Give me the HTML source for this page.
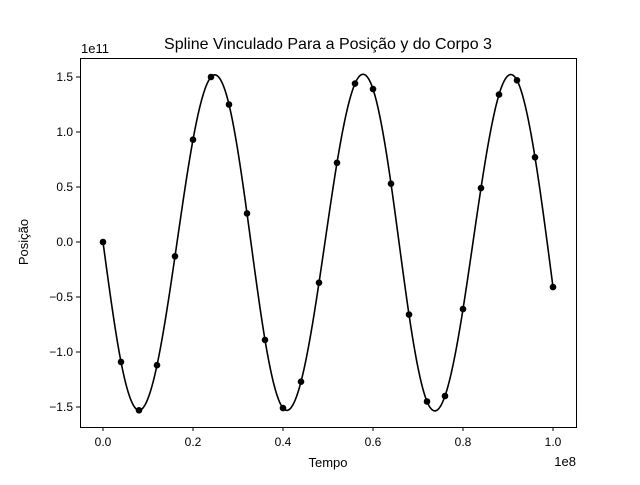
<!DOCTYPE html>
<html><head><meta charset="utf-8"><style>
body{margin:0;background:#fff}
svg text{font-family:"Liberation Sans","DejaVu Sans",sans-serif;fill:#000}
</style></head><body>
<svg id="c" width="640" height="480">
<rect width="640" height="480" fill="#fff"/>
<text x="328" y="49" text-anchor="middle" font-size="16">Spline Vinculado Para a Posição y do Corpo 3</text>
<text x="328" y="467" text-anchor="middle" font-size="13">Tempo</text>
<text transform="translate(28,242) rotate(-90)" text-anchor="middle" font-size="13">Posição</text>
<text x="81" y="53" font-size="13">1e11</text>
<text x="576" y="466" text-anchor="end" font-size="13">1e8</text>
<g id="ticks"></g>
<path id="curve" fill="none" stroke="#000" stroke-width="1.6"/>
<g id="pts"></g>
<rect x="80.5" y="58.5" width="496" height="369" fill="none" stroke="#000" stroke-width="1"/>
</svg>
<script>
const times=[0,0.04,0.08,0.12,0.16,0.20,0.24,0.28,0.32,0.36,0.40,0.44,0.48,0.52,0.56,0.60,0.64,0.68,0.72,0.76,0.80,0.84,0.88,0.92,0.96,1.00];
const positions=[0,-1.09,-1.53,-1.12,-0.13,0.93,1.50,1.25,0.26,-0.89,-1.51,-1.27,-0.37,0.72,1.44,1.39,0.53,-0.66,-1.45,-1.40,-0.61,0.49,1.34,1.47,0.77,-0.41];
const xTicks=[0,0.2,0.4,0.6,0.8,1.0];
const xTickLabels=["0.0","0.2","0.4","0.6","0.8","1.0"];
const yTicks=[-1.5,-1.0,-0.5,0,0.5,1.0,1.5];
const yTickLabels=["−1.5","−1.0","−0.5","0.0","0.5","1.0","1.5"];
const X=v=>103+v*450, Y=v=>242-v*110;
const NS="http://www.w3.org/2000/svg";
const tg=document.getElementById('ticks');
function mk(t,a,p){const e=document.createElementNS(NS,t);for(const k in a)e.setAttribute(k,a[k]);p.appendChild(e);return e;}
xTicks.forEach((v,i)=>{
 const l=mk('line',{x1:X(v),x2:X(v),y1:427,y2:431,stroke:'#000'},tg);
 
 
 const t=mk('text',{x:X(v),y:446,'text-anchor':'middle','font-size':12},tg);t.textContent=xTickLabels[i];
 
 
});
yTicks.forEach((v,i)=>{
 const l=mk('line',{x1:76,x2:80,y1:Y(v),y2:Y(v),stroke:'#000'},tg);
 
 
 const t=mk('text',{x:73,y:Y(v)+4,'text-anchor':'end','font-size':12},tg);t.textContent=yTickLabels[i];
 
 
});
// natural cubic spline
const n=times.length,h=[],al=[],l=[1],mu=[0],z=[0],c=new Array(n).fill(0),b=[],d=[];
for(let i=0;i<n-1;i++)h[i]=times[i+1]-times[i];
for(let i=1;i<n-1;i++)al[i]=3/h[i]*(positions[i+1]-positions[i])-3/h[i-1]*(positions[i]-positions[i-1]);
for(let i=1;i<n-1;i++){l[i]=2*(times[i+1]-times[i-1])-h[i-1]*mu[i-1];mu[i]=h[i]/l[i];z[i]=(al[i]-h[i-1]*z[i-1])/l[i];}
l[n-1]=1;z[n-1]=0;
for(let j=n-2;j>=0;j--){c[j]=z[j]-mu[j]*c[j+1];b[j]=(positions[j+1]-positions[j])/h[j]-h[j]*(c[j+1]+2*c[j])/3;d[j]=(c[j+1]-c[j])/(3*h[j]);}
let dp="";
for(let j=0;j<n-1;j++)for(let k=0;k<=20;k++){const s=h[j]*k/20,v=positions[j]+b[j]*s+c[j]*s*s+d[j]*s*s*s;dp+=(dp?"L":"M")+X(times[j]+s).toFixed(2)+","+Y(v).toFixed(2);}
document.getElementById('curve').setAttribute('d',dp);
const pg=document.getElementById('pts');
times.forEach((t,i)=>{const e=mk('circle',{cx:X(t),cy:Y(positions[i]),r:3.3,fill:'#000'},pg);
 
 });
</script>
</body></html>
